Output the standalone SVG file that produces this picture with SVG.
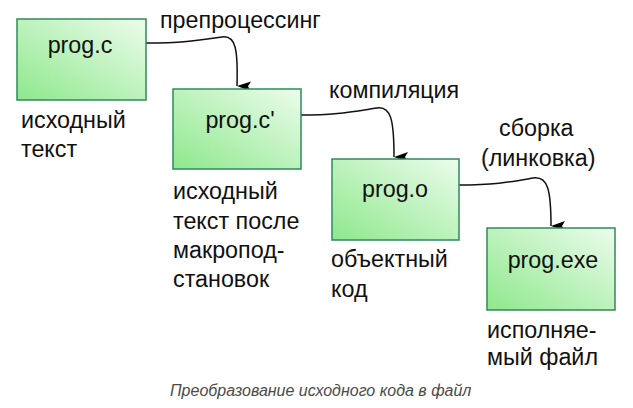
<svg xmlns="http://www.w3.org/2000/svg" width="633" height="408" viewBox="0 0 633 408">
  <defs>
    <linearGradient id="boxFill" x1="1" y1="0" x2="0" y2="1">
      <stop offset="0" stop-color="#ecfcec"/>
      <stop offset="1" stop-color="#8ee88c"/>
    </linearGradient>
    <marker id="arrow" viewBox="0 0 10 14" refX="5" refY="14" markerWidth="10" markerHeight="14" markerUnits="userSpaceOnUse" orient="auto-start-reverse">
      <path d="M0,0 L5,3 L10,0 L5,14 Z" fill="#000"/>
    </marker>
  </defs>
  <style>
    .box { fill: url(#boxFill); stroke: #2f8a5c; stroke-width: 1.5; }
    .t { font-family: "Liberation Sans", Arial, sans-serif; font-size: 23.3px; fill: #111; }
    .c { text-anchor: middle; }
    .edge { fill: none; stroke: #111; stroke-width: 1.5; }
    .cap { font-family: "Liberation Sans", Arial, sans-serif; font-size: 16px; font-style: italic; fill: #4a4a4a; }
  </style>
  <rect width="633" height="408" fill="#fff"/>

  <g id="connectors">
    <path class="edge" d="M146,43 C180,43 195,41 222,37 C236,35 238,50 237,86" marker-end="url(#arrow)"/>
    <path class="edge" d="M301,115 C335,115 350,112 377,108 C391,106 394,120 394,157" marker-end="url(#arrow)"/>
    <path class="edge" d="M459,185 C495,185 510,182 533,178 C548,176 551,190 551,226" marker-end="url(#arrow)"/>
  </g>

  <g id="edge-labels">
    <text class="t" x="160" y="28">препроцессинг</text>
    <text class="t" x="329" y="98">компиляция</text>
    <text class="t" x="499" y="136">сборка</text>
    <text class="t" x="481" y="166">(линковка)</text>
  </g>

  <g id="node-prog-c">
    <rect class="box" x="17" y="19" width="129" height="81"/>
    <text class="t c" x="80" y="53">prog.c</text>
    <text class="t" x="21" y="128">исходный</text>
    <text class="t" x="21" y="157">текст</text>
  </g>

  <g id="node-prog-c-prime">
    <rect class="box" x="173" y="89" width="128" height="80"/>
    <text class="t c" x="240" y="128">prog.c'</text>
    <text class="t" x="173" y="199">исходный</text>
    <text class="t" x="173" y="229">текст после</text>
    <text class="t" x="173" y="258">макропод-</text>
    <text class="t" x="173" y="287">становок</text>
  </g>

  <g id="node-prog-o">
    <rect class="box" x="332" y="159" width="127" height="81"/>
    <text class="t c" x="395" y="197">prog.o</text>
    <text class="t" x="331" y="267">объектный</text>
    <text class="t" x="331" y="297">код</text>
  </g>

  <g id="node-prog-exe">
    <rect class="box" x="487" y="228" width="128" height="82"/>
    <text class="t c" x="553" y="268">prog.exe</text>
    <text class="t" x="487" y="338">исполняе-</text>
    <text class="t" x="487" y="365">мый файл</text>
  </g>

  <text class="cap" x="170" y="396">Преобразование исходного кода в файл</text>
</svg>
